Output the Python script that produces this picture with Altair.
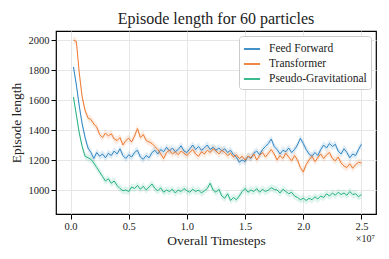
import altair as alt
import pandas as pd

steps = [round(0.025 * i, 3) for i in range(1, 101)]

feed_forward = [1820, 1700, 1560, 1440, 1350, 1280, 1250, 1210, 1250, 1225,
                1240, 1215, 1245, 1230, 1260, 1240, 1275, 1230, 1210, 1235,
                1220, 1250, 1265, 1220, 1205, 1230, 1215, 1250, 1265, 1240,
                1270, 1255, 1285, 1260, 1280, 1255, 1270, 1295, 1260, 1250,
                1275, 1300, 1270, 1290, 1265, 1280, 1300, 1270, 1285, 1265,
                1280, 1260, 1275, 1250, 1265, 1235, 1220, 1185, 1200, 1190,
                1225, 1210, 1245, 1260, 1235, 1270, 1290, 1310, 1340, 1290,
                1270, 1240, 1265, 1255, 1280, 1250, 1270, 1300, 1345, 1310,
                1270, 1240, 1225, 1250, 1230, 1270, 1300, 1280, 1310, 1290,
                1305, 1260, 1240, 1275, 1250, 1215, 1240, 1230, 1270, 1305]

transformer = [2000, 1990, 1780, 1620, 1530, 1480, 1470, 1440, 1420, 1370,
               1350, 1380, 1360, 1375, 1340, 1330, 1350, 1300, 1330, 1345,
               1320, 1360, 1410, 1350, 1370, 1330, 1320, 1310, 1290, 1270,
               1240, 1210, 1250, 1265, 1240, 1255, 1235, 1260, 1245, 1230,
               1250, 1270, 1240, 1225, 1255, 1240, 1265, 1250, 1275, 1260,
               1240, 1265, 1250, 1230, 1245, 1220, 1235, 1210, 1225, 1200,
               1225, 1215, 1240, 1200, 1230, 1250, 1220, 1245, 1270, 1240,
               1200, 1230, 1210, 1245, 1220, 1195, 1230, 1200, 1150, 1120,
               1170, 1200, 1225, 1190, 1215, 1240, 1210, 1235, 1250, 1210,
               1195, 1220, 1180, 1160, 1150, 1175, 1145, 1170, 1185, 1180]

pseudo_grav = [1620, 1500, 1380, 1290, 1225, 1215, 1205, 1180, 1150, 1120,
               1090, 1060, 1075, 1045, 1060, 1030, 1010, 995, 1000, 990,
               1020, 1010, 1030, 1005, 1025, 1000, 1020, 1040, 1010, 995,
               1015, 985, 1000, 990, 1005, 980, 1000, 990, 1010, 995,
               985, 1005, 990, 1000, 980, 995, 1010, 1045, 1000, 985,
               1005, 960, 945, 975, 930, 950, 935, 960, 990, 1010,
               985, 1000, 990, 1010, 985, 1005, 990, 1000, 1015, 1005,
               1000, 980, 1005, 990, 975, 985, 960, 950, 935, 945,
               930, 945, 935, 955, 940, 960, 950, 975, 960, 980,
               965, 985, 970, 980, 965, 990, 970, 975, 955, 970]

series_names = ["Feed Forward", "Transformer", "Pseudo-Gravitational"]
colors = ["#2f86c4", "#ee7a30", "#26b285"]
x_ticks = [0.0, 0.5, 1.0, 1.5, 2.0, 2.5]
y_ticks = [1000, 1200, 1400, 1600, 1800, 2000]

rows = []
for name, vals in zip(series_names, [feed_forward, transformer, pseudo_grav]):
    for s, v in zip(steps, vals):
        rows.append({"step": s, "value": v, "series": name})
df = pd.DataFrame(rows)

FONT = "Liberation Serif"
W, H = 320, 183
YDOM = [840, 2060]

xaxis = alt.Axis(values=x_ticks, format=".1f", title="Overall Timesteps",
                 titlePadding=2, labelOverlap=False)
yaxis = alt.Axis(values=y_ticks, format="d", title="Episode length",
                 titlePadding=5, labelOverlap=False)
xs = alt.X("step:Q", scale=alt.Scale(domain=[-0.125, 2.625], nice=False, zero=False), axis=xaxis)
ys = alt.Y("value:Q", scale=alt.Scale(domain=YDOM, nice=False, zero=False), axis=yaxis)
cscale = alt.Scale(domain=series_names, range=colors)
legend = alt.Legend(title=None, orient="top-right", symbolType="stroke",
                    labelFont=FONT, labelFontSize=11.5, labelColor="#222")
color = alt.Color("series:N", scale=cscale, sort=series_names, legend=legend)

base = alt.Chart(df)

band = base.transform_calculate(
    lo="datum.value - 25", hi="datum.value + 25"
).mark_area(opacity=0.15).encode(
    x=xs, y=alt.Y("lo:Q", scale=alt.Scale(domain=YDOM, nice=False, zero=False), axis=yaxis),
    y2="hi:Q", color=color
)

lines = base.mark_line(strokeWidth=1).encode(x=xs, y=ys, color=color)

exp_label = alt.Chart(pd.DataFrame({"t": ["×10⁷"]})).mark_text(
    font=FONT, fontSize=10, align="right", baseline="top", color="#222"
).encode(text="t:N", x=alt.value(W - 1), y=alt.value(H + 20))

chart = alt.layer(band, lines, exp_label).properties(
    width=W, height=H,
    title=alt.TitleParams("Episode length for 60 particles", font=FONT, fontSize=16,
                          fontWeight="normal", color="#222", offset=4),
    autosize=alt.AutoSizeParams(type="none"),
    padding={"left": 48, "top": 23, "right": 5, "bottom": 37},
).configure_view(stroke="black", strokeWidth=1.2).configure_axis(
    grid=True, gridColor="#e6e6e6", tickColor="black", domain=False,
    labelFont=FONT, titleFont=FONT, labelFontSize=10.5, titleFontSize=13.5,
    titleFontWeight="normal", labelColor="#222", titleColor="#222"
).configure_legend(
    labelFont=FONT, labelFontSize=11.5, labelColor="#222",
    symbolStrokeWidth=1.8, symbolSize=260, symbolOpacity=1,
    strokeColor="#cccccc", fillColor="white", padding=4, cornerRadius=3,
    rowPadding=0, offset=5, labelOffset=8
)

chart.save("out.html", embed_options={"renderer": "svg", "actions": False})
